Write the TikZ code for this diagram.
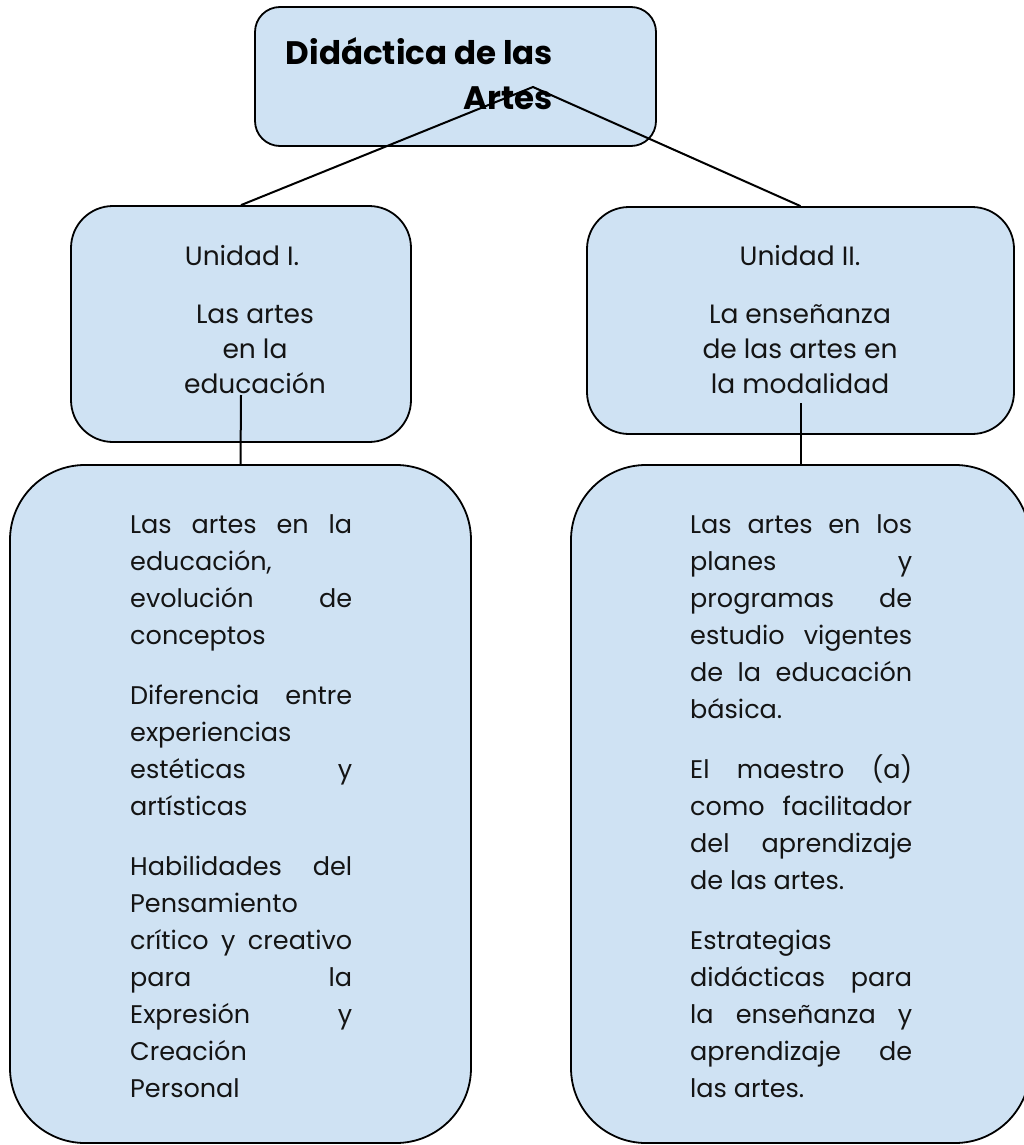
\documentclass[tikz,border=0pt]{standalone}
\usepackage{fontspec}
\setmainfont{Poppins}
\definecolor{boxblue}{HTML}{CFE2F3}
\definecolor{ink}{HTML}{141414}
\newlength\colw
\setlength\colw{222pt}
\newcommand\JL[1]{\hbox to\colw{#1}}
\newcommand\LL[1]{\hbox to\colw{#1\hfil}}
\newcommand\CL[1]{\hbox to 0pt{\hss#1\hss}}
\newcommand\RL[1]{\hbox to 0pt{\hss#1}}
\tikzset{
  box/.style={draw=black, fill=boxblue, line width=1.8pt, inner sep=0pt},
  conn/.style={draw=black, line width=2pt},
  bodytext/.style={inner sep=0pt, text=ink, font=\fontsize{25.5}{37}\selectfont},
  unittext/.style={inner sep=0pt, text=ink, font=\fontsize{26.5}{35}\selectfont},
  titletext/.style={inner sep=0pt, text=black, font=\fontsize{32.5}{45}\selectfont\bfseries},
}
\begin{document}
\begin{tikzpicture}[x=1pt,y=-1pt]
\useasboundingbox (0,0) rectangle (1024,1145);
\clip (0,0) rectangle (1024,1145);
% boxes
\node[box, rounded corners=25pt, minimum width=401pt, minimum height=139pt] (top) at (455.5,76.5) {};
\node[box, rounded corners=42pt, minimum width=340pt, minimum height=236pt] (u1) at (241,324) {};
\node[box, rounded corners=42pt, minimum width=427pt, minimum height=227pt] (u2) at (800.5,320.5) {};
\node[box, rounded corners=75pt, minimum width=461pt, minimum height=678pt] (b1) at (240.5,804) {};
\node[box, rounded corners=75pt, minimum width=459pt, minimum height=678pt] (b2) at (800.5,804) {};
% texts
\node[titletext, anchor=base] (ttop) at (553,65) {\vtop{\baselineskip=45pt\RL{Didáctica de las}\RL{Artes}}};
\node[unittext, anchor=base] (u1a) at (242,265) {\CL{Unidad I.}};
\node[unittext, anchor=base] (u1b) at (255,323) {\vtop{\baselineskip=35pt\CL{Las artes}\CL{en la}\CL{educación}}};
\node[unittext, anchor=base] (u2a) at (800,265) {\CL{Unidad II.}};
\node[unittext, anchor=base] (u2b) at (800,323) {\vtop{\baselineskip=35pt\CL{La enseñanza}\CL{de las artes en}\CL{la modalidad}}};
\node[bodytext, anchor=base west] (t1) at (130,533) {\vtop{\baselineskip=37pt
  \JL{Las artes en la}\LL{educación,}\JL{evolución de}\LL{conceptos}
  \vskip23pt
  \JL{Diferencia entre}\LL{experiencias}\JL{estéticas y}\LL{artísticas}
  \vskip23pt
  \JL{Habilidades del}\LL{Pensamiento}\JL{crítico y creativo}\JL{para la}\JL{Expresión y}\LL{Creación}\LL{Personal}}};
\node[bodytext, anchor=base west] (t2) at (690,533) {\vtop{\baselineskip=37pt
  \JL{Las artes en los}\JL{planes y}\JL{programas de}\JL{estudio vigentes}\JL{de la educación}\LL{básica.}
  \vskip23pt
  \JL{El maestro (a)}\JL{como facilitador}\JL{del aprendizaje}\LL{de las artes.}
  \vskip23pt
  \LL{Estrategias}\JL{didácticas para}\JL{la enseñanza y}\JL{aprendizaje de}\LL{las artes.}}};
% connectors
\coordinate (peak) at (533,87);
\coordinate (s1) at (241,395);
\coordinate (s2) at (800.5,403);
\draw[conn] (u1.north) -- (peak) -- (u2.north);
\draw[conn] (s1) -- (b1.north);
\draw[conn] (s2) -- (b2.north);
\end{tikzpicture}
\end{document}
